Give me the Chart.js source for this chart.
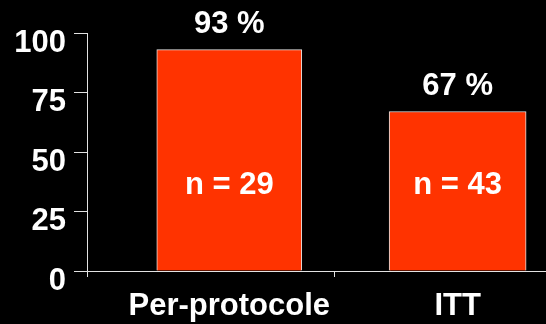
<!DOCTYPE html>
<html>
<head>
<meta charset="utf-8">
<title>Per-protocole vs ITT</title>
<script src="https://cdn.jsdelivr.net/npm/chart.js@4/dist/chart.umd.min.js"></script>
<style>
  html, body { margin: 0; padding: 0; background: #000; overflow: hidden; }
  #wrap { width: 546px; height: 324px; position: relative; }
</style>
</head>
<body>
<div id="wrap"><canvas id="chart"></canvas></div>
<script>
// Response rate (%) and number of patients per analysis population
const categories = ['Per-protocole', 'ITT'];
const percentValues = [93, 67];
const sampleSizes = [29, 43];
const yTickValues = [0, 25, 50, 75, 100];

const FONT = 'bold 31px "Liberation Sans", Arial, Helvetica, sans-serif';
const AXIS_COLOR = '#e2e2e2';
const BAR_COLOR = '#ff3300';
const barThickness = [145, 137];

Chart.defaults.font.family = '"Liberation Sans", Arial, Helvetica, sans-serif';
Chart.defaults.font.size = 31;
Chart.defaults.font.weight = 'bold';
Chart.defaults.color = '#ffffff';

// Writes "xx %" above each bar and "n = xx" inside it
const valueLabels = {
  id: 'valueLabels',
  afterDatasetsDraw(chart, args, opts) {
    const { ctx } = chart;
    const y = chart.scales.y;
    ctx.save();
    ctx.font = FONT;
    ctx.fillStyle = '#ffffff';
    ctx.textAlign = 'center';
    ctx.textBaseline = 'alphabetic';
    chart.data.datasets.forEach((ds, i) => {
      const bar = chart.getDatasetMeta(i).data[0];
      ctx.fillText(percentValues[i] + ' %', bar.x, bar.y - opts.gap);
      ctx.fillText('n = ' + sampleSizes[i], bar.x, y.getPixelForValue(opts.countLevel));
    });
    ctx.restore();
  }
};

const datasets = categories.map((name, i) => ({
  label: name,
  data: [{ x: i, y: percentValues[i] }],
  backgroundColor: BAR_COLOR,
  borderColor: AXIS_COLOR,
  borderWidth: 1,
  barThickness: barThickness[i],
  grouped: false
}));

new Chart(document.getElementById('chart'), {
  type: 'bar',
  data: { datasets },
  plugins: [valueLabels],
  options: {
    responsive: true,
    maintainAspectRatio: false,
    animation: false,
    layout: { padding: { top: 33, right: 0, bottom: 0, left: 0 } },
    plugins: {
      legend: { display: false },
      tooltip: { enabled: false },
      valueLabels: { gap: 17, countLevel: 32.3 }
    },
    scales: {
      x: {
        type: 'linear',
        offset: false,
        bounds: 'data',
        min: -0.623,
        max: 1.387,
        afterBuildTicks(scale) {
          // category label positions plus the divider tick between them
          scale.ticks = [scale.min, 0, 0.46, 1].map(v => ({ value: v }));
        },
        afterFit(scale) { scale.height = 53; },
        ticks: {
          autoSkip: false,
          maxRotation: 0,
          padding: 11,
          color: '#ffffff',
          callback: (v) => Number.isInteger(v) ? categories[v] : ''
        },
        grid: {
          offset: false,
          drawOnChartArea: false,
          drawTicks: true,
          tickLength: 6,
          tickWidth: 1,
          tickColor: (ctx) => (ctx.tick && Number.isInteger(ctx.tick.value)) ? 'rgba(0,0,0,0)' : AXIS_COLOR
        },
        border: { display: true, color: AXIS_COLOR, width: 1 }
      },
      y: {
        min: 0,
        max: 100,
        afterBuildTicks(scale) {
          scale.ticks = yTickValues.map(v => ({ value: v }));
        },
        afterFit(scale) { scale.width = 87; },
        ticks: {
          padding: 8,
          labelOffset: 10,
          color: '#ffffff'
        },
        grid: {
          drawOnChartArea: false,
          drawTicks: true,
          tickLength: 13,
          tickColor: AXIS_COLOR
        },
        border: { display: true, color: AXIS_COLOR, width: 1 }
      }
    }
  }
});
</script>
</body>
</html>
